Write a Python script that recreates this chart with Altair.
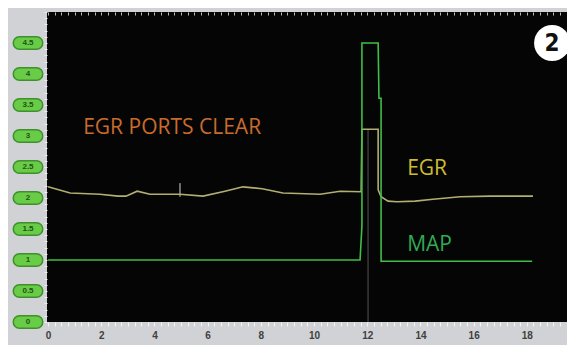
import altair as alt
import pandas as pd

# ---- data ----
egr_t = [0.0, 0.83, 1.95, 2.63, 2.93, 3.35, 3.83, 4.96, 5.83, 6.65, 7.33, 8.05, 8.83, 10.23, 10.98, 11.77,
         11.80, 12.41, 12.41, 12.52, 12.78, 13.12, 13.80, 14.47, 15.49, 16.62, 18.23]
egr_v = [2.18, 2.08, 2.06, 2.03, 2.03, 2.11, 2.06, 2.06, 2.03, 2.11, 2.18, 2.15, 2.08, 2.06, 2.11, 2.10,
         3.11, 3.11, 2.13, 2.02, 1.95, 1.94, 1.95, 1.98, 2.02, 2.03, 2.03]
map_t = [0.0, 11.73, 11.80, 11.80, 12.41, 12.44, 12.52, 12.52, 18.20]
map_v = [1.0, 1.0, 1.55, 4.5, 4.5, 3.61, 3.61, 0.98, 0.98]

y_tick_values = [0, 0.5, 1, 1.5, 2, 2.5, 3, 3.5, 4, 4.5]
y_tick_labels = ["0", "0.5", "1", "1.5", "2", "2.5", "3", "3.5", "4", "4.5"]

cursor_t = [12.03]
cursor_v0 = [0.0]
cursor_v1 = [3.1]

marker_t = [4.96]
marker_v0 = [2.02]
marker_v1 = [2.24]

ann_text = ["EGR PORTS CLEAR", "EGR", "MAP"]
ann_x = [1.32, 13.5, 13.5]
ann_y = [3.13, 2.47, 1.24]
ann_color = ["#c96b2c", "#cdbd2e", "#2faa55"]

badge_text = ["2"]
badge_x = [18.95]
badge_y = [4.5]

# ---- tables ----
egr = pd.DataFrame({"t": egr_t, "v": egr_v, "i": range(len(egr_t))})
mp = pd.DataFrame({"t": map_t, "v": map_v, "i": range(len(map_t))})
yt = pd.DataFrame({"v": y_tick_values, "lab": y_tick_labels})
cur = pd.DataFrame({"t": cursor_t, "v0": cursor_v0, "v1": cursor_v1})
mk = pd.DataFrame({"t": marker_t, "v0": marker_v0, "v1": marker_v1})
ann = pd.DataFrame({"txt": ann_text, "t": ann_x, "v": ann_y, "c": ann_color})
badge = pd.DataFrame({"txt": badge_text, "t": badge_x, "v": badge_y})

xs = alt.Scale(domain=[-0.04, 19.51], nice=False, zero=False)
ys = alt.Scale(domain=[0, 5], nice=False, zero=False)

minor_x = [i * 0.25 for i in range(79)]
minor_y = [round(i * 0.1, 2) for i in range(51)]

x_bottom = alt.Axis(orient="bottom", values=minor_x, tickSize=4, tickColor="#f4f4f4",
                    domain=False, grid=False, title=None, labelOverlap=False, labelFlush=False,
                    labelExpr="datum.value % 2 === 0 ? format(datum.value, 'd') : ''",
                    labelFont="Liberation Sans", labelFontSize=10, labelFontWeight="bold",
                    labelColor="#404040", labelPadding=4)
y_left = alt.Axis(orient="left", values=minor_y, tickSize=3, tickColor="#eeeeee",
                  domain=False, grid=False, labels=False, title=None)
x_top = alt.Axis(orient="top", values=minor_x, tickSize=3, tickColor="#bbbbbb", offset=-3,
                 domain=False, grid=False, labels=False, title=None)

egr_line = alt.Chart(egr).mark_line(color="#b3ae72", strokeWidth=1.6).encode(
    x=alt.X("t:Q", scale=xs, axis=x_bottom),
    y=alt.Y("v:Q", scale=ys, axis=y_left),
    order="i:Q",
)

map_line = alt.Chart(mp).mark_line(color="#3fbf45", strokeWidth=1.6).encode(
    x=alt.X("t:Q", scale=xs, axis=x_top),
    y=alt.Y("v:Q", scale=ys, axis=None),
    order="i:Q",
)

cursor = alt.Chart(cur).mark_rule(color="#555555", strokeWidth=1).encode(
    x=alt.X("t:Q", scale=xs, axis=None),
    y=alt.Y("v0:Q", scale=ys, axis=None),
    y2="v1:Q",
)

marker = alt.Chart(mk).mark_rule(color="#d8d8c8", strokeWidth=1).encode(
    x=alt.X("t:Q", scale=xs, axis=None),
    y=alt.Y("v0:Q", scale=ys, axis=None),
    y2="v1:Q",
)

pill_border = alt.Chart(yt).mark_rule(strokeWidth=14, strokeCap="round", color="#3f8f2c").encode(
    x=alt.value(-27.5), x2=alt.value(-10.5),
    y=alt.Y("v:Q", scale=ys, axis=None),
)
pill_fill = alt.Chart(yt).mark_rule(strokeWidth=11, strokeCap="round", color="#68cc46").encode(
    x=alt.value(-27.5), x2=alt.value(-10.5),
    y=alt.Y("v:Q", scale=ys, axis=None),
)
pill_text = alt.Chart(yt).mark_text(fontSize=8, fontWeight="bold", color="#24521a",
                                    font="Liberation Sans", align="center", baseline="middle").encode(
    x=alt.value(-19),
    y=alt.Y("v:Q", scale=ys, axis=None),
    text="lab:N",
)

ann_layer = alt.Chart(ann).mark_text(font="Open Sans", fontSize=21, align="left",
                                     baseline="middle").encode(
    x=alt.X("t:Q", scale=xs, axis=None),
    y=alt.Y("v:Q", scale=ys, axis=None),
    text="txt:N",
    color=alt.Color("c:N", scale=None),
)

badge_circle = alt.Chart(badge).mark_point(shape="circle", filled=True, size=1300,
                                           color="white", opacity=1).encode(
    x=alt.X("t:Q", scale=xs, axis=None),
    y=alt.Y("v:Q", scale=ys, axis=None),
)
badge_label = alt.Chart(badge).mark_text(font="DejaVu Sans Condensed", fontSize=24,
                                         fontWeight="bold", color="#111111",
                                         align="center", baseline="middle", dy=1).encode(
    x=alt.X("t:Q", scale=xs, axis=None),
    y=alt.Y("v:Q", scale=ys, axis=None),
    text="txt:N",
)

chart = alt.layer(
    cursor, marker, egr_line, map_line,
    pill_border, pill_fill, pill_text,
    ann_layer, badge_circle, badge_label,
).resolve_axis(x="independent", y="independent").properties(
    width=520, height=310,
    autosize=alt.AutoSizeParams(type="none"),
    padding={"left": 39, "top": 4, "right": 0, "bottom": 23},
    background="#d1d2d5",
).configure_view(fill="#050505", stroke=None)

chart.save("out.html", embed_options={"renderer": "svg", "actions": False})
